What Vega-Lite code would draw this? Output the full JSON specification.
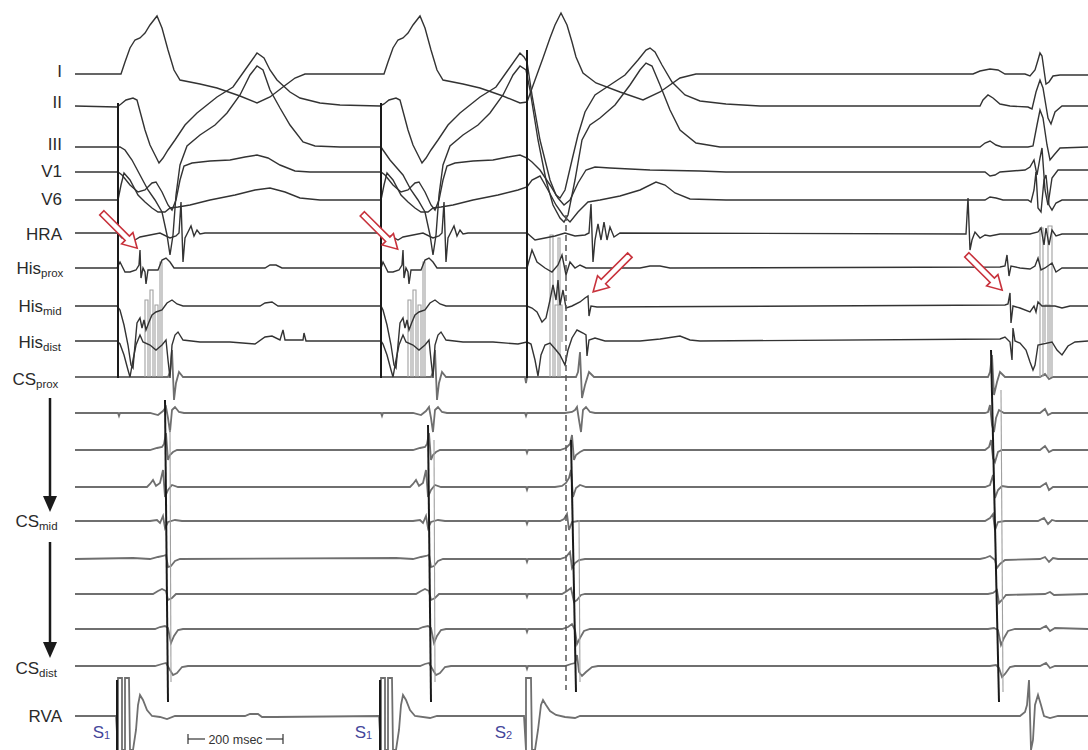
{
  "$schema": "https://vega.github.io/schema/vega-lite/v6.json",
  "width": 1088,
  "height": 750,
  "padding": 0,
  "autosize": {"type": "fit", "contains": "padding"},
  "background": "white",
  "config": {"view": {"stroke": null}},
  "datasets": {
    "traces": [
      {"c":"I","t":75,"v":74},{"c":"I","t":121,"v":74},{"c":"I","t":125,"v":62},{"c":"I","t":130,"v":48},{"c":"I","t":135,"v":40},{"c":"I","t":140,"v":38},{"c":"I","t":145,"v":33},{"c":"I","t":150,"v":25},{"c":"I","t":157,"v":16},{"c":"I","t":162,"v":28},{"c":"I","t":168,"v":50},{"c":"I","t":174,"v":70},{"c":"I","t":180,"v":80},{"c":"I","t":200,"v":84},{"c":"I","t":217,"v":88},{"c":"I","t":240,"v":96},{"c":"I","t":257,"v":103},{"c":"I","t":270,"v":97},{"c":"I","t":283,"v":87},{"c":"I","t":295,"v":78},{"c":"I","t":305,"v":74},{"c":"I","t":384,"v":74},{"c":"I","t":388,"v":62},{"c":"I","t":393,"v":48},{"c":"I","t":398,"v":40},{"c":"I","t":403,"v":38},{"c":"I","t":408,"v":33},{"c":"I","t":413,"v":25},{"c":"I","t":420,"v":16},{"c":"I","t":425,"v":28},{"c":"I","t":431,"v":50},{"c":"I","t":437,"v":70},{"c":"I","t":443,"v":80},{"c":"I","t":463,"v":84},{"c":"I","t":480,"v":88},{"c":"I","t":503,"v":96},{"c":"I","t":520,"v":103},{"c":"I","t":527,"v":102},{"c":"I","t":535,"v":80},{"c":"I","t":543,"v":58},{"c":"I","t":550,"v":38},{"c":"I","t":555,"v":25},{"c":"I","t":561,"v":13},{"c":"I","t":567,"v":25},{"c":"I","t":572,"v":42},{"c":"I","t":576,"v":57},{"c":"I","t":583,"v":73},{"c":"I","t":596,"v":83},{"c":"I","t":620,"v":92},{"c":"I","t":643,"v":100},{"c":"I","t":660,"v":92},{"c":"I","t":680,"v":78},{"c":"I","t":696,"v":74},{"c":"I","t":973,"v":74},{"c":"I","t":980,"v":71},{"c":"I","t":990,"v":69},{"c":"I","t":998,"v":70},{"c":"I","t":1005,"v":74},{"c":"I","t":1025,"v":74},{"c":"I","t":1030,"v":76},{"c":"I","t":1035,"v":70},{"c":"I","t":1038,"v":60},{"c":"I","t":1040,"v":53},{"c":"I","t":1042,"v":56},{"c":"I","t":1044,"v":70},{"c":"I","t":1046,"v":84},{"c":"I","t":1049,"v":82},{"c":"I","t":1053,"v":76},{"c":"I","t":1060,"v":75},{"c":"I","t":1088,"v":75},

      {"c":"II","t":75,"v":106},{"c":"II","t":117,"v":107},{"c":"II","t":121,"v":104},{"c":"II","t":126,"v":100},{"c":"II","t":133,"v":98},{"c":"II","t":137,"v":100},{"c":"II","t":141,"v":115},{"c":"II","t":145,"v":130},{"c":"II","t":150,"v":145},{"c":"II","t":155,"v":155},{"c":"II","t":159,"v":163},{"c":"II","t":163,"v":158},{"c":"II","t":168,"v":150},{"c":"II","t":175,"v":140},{"c":"II","t":185,"v":125},{"c":"II","t":197,"v":113},{"c":"II","t":217,"v":97},{"c":"II","t":233,"v":87},{"c":"II","t":245,"v":70},{"c":"II","t":257,"v":53},{"c":"II","t":264,"v":58},{"c":"II","t":270,"v":70},{"c":"II","t":277,"v":80},{"c":"II","t":290,"v":92},{"c":"II","t":300,"v":98},{"c":"II","t":320,"v":103},{"c":"II","t":340,"v":105},{"c":"II","t":380,"v":106},{"c":"II","t":384,"v":104},{"c":"II","t":389,"v":100},{"c":"II","t":396,"v":98},{"c":"II","t":400,"v":100},{"c":"II","t":404,"v":115},{"c":"II","t":408,"v":130},{"c":"II","t":413,"v":145},{"c":"II","t":418,"v":155},{"c":"II","t":422,"v":163},{"c":"II","t":426,"v":158},{"c":"II","t":431,"v":150},{"c":"II","t":438,"v":140},{"c":"II","t":448,"v":125},{"c":"II","t":460,"v":113},{"c":"II","t":480,"v":97},{"c":"II","t":496,"v":87},{"c":"II","t":508,"v":70},{"c":"II","t":520,"v":53},{"c":"II","t":524,"v":57},{"c":"II","t":527,"v":62},{"c":"II","t":532,"v":95},{"c":"II","t":540,"v":140},{"c":"II","t":550,"v":180},{"c":"II","t":556,"v":195},{"c":"II","t":560,"v":198},{"c":"II","t":565,"v":190},{"c":"II","t":572,"v":160},{"c":"II","t":578,"v":135},{"c":"II","t":585,"v":112},{"c":"II","t":595,"v":95},{"c":"II","t":610,"v":85},{"c":"II","t":625,"v":75},{"c":"II","t":638,"v":60},{"c":"II","t":646,"v":50},{"c":"II","t":650,"v":48},{"c":"II","t":655,"v":52},{"c":"II","t":662,"v":65},{"c":"II","t":672,"v":82},{"c":"II","t":685,"v":95},{"c":"II","t":700,"v":101},{"c":"II","t":726,"v":104},{"c":"II","t":760,"v":106},{"c":"II","t":980,"v":106},{"c":"II","t":983,"v":100},{"c":"II","t":988,"v":95},{"c":"II","t":993,"v":98},{"c":"II","t":1000,"v":104},{"c":"II","t":1010,"v":106},{"c":"II","t":1028,"v":107},{"c":"II","t":1032,"v":109},{"c":"II","t":1036,"v":92},{"c":"II","t":1040,"v":80},{"c":"II","t":1043,"v":88},{"c":"II","t":1048,"v":118},{"c":"II","t":1051,"v":124},{"c":"II","t":1055,"v":112},{"c":"II","t":1062,"v":106},{"c":"II","t":1088,"v":106},

      {"c":"III","t":75,"v":147},{"c":"III","t":120,"v":147},{"c":"III","t":125,"v":150},{"c":"III","t":132,"v":160},{"c":"III","t":140,"v":175},{"c":"III","t":148,"v":190},{"c":"III","t":155,"v":200},{"c":"III","t":162,"v":212},{"c":"III","t":167,"v":235},{"c":"III","t":170,"v":255},{"c":"III","t":173,"v":235},{"c":"III","t":176,"v":195},{"c":"III","t":180,"v":165},{"c":"III","t":187,"v":146},{"c":"III","t":200,"v":135},{"c":"III","t":215,"v":125},{"c":"III","t":227,"v":113},{"c":"III","t":240,"v":95},{"c":"III","t":250,"v":75},{"c":"III","t":257,"v":66},{"c":"III","t":263,"v":70},{"c":"III","t":270,"v":90},{"c":"III","t":280,"v":108},{"c":"III","t":290,"v":125},{"c":"III","t":303,"v":142},{"c":"III","t":315,"v":146},{"c":"III","t":340,"v":147},{"c":"III","t":381,"v":147},{"c":"III","t":383,"v":150},{"c":"III","t":390,"v":160},{"c":"III","t":403,"v":175},{"c":"III","t":411,"v":190},{"c":"III","t":418,"v":200},{"c":"III","t":425,"v":212},{"c":"III","t":430,"v":235},{"c":"III","t":433,"v":255},{"c":"III","t":436,"v":235},{"c":"III","t":439,"v":195},{"c":"III","t":443,"v":165},{"c":"III","t":450,"v":146},{"c":"III","t":463,"v":135},{"c":"III","t":478,"v":125},{"c":"III","t":490,"v":113},{"c":"III","t":503,"v":95},{"c":"III","t":513,"v":75},{"c":"III","t":520,"v":66},{"c":"III","t":526,"v":70},{"c":"III","t":530,"v":90},{"c":"III","t":538,"v":140},{"c":"III","t":546,"v":180},{"c":"III","t":553,"v":205},{"c":"III","t":560,"v":218},{"c":"III","t":564,"v":222},{"c":"III","t":568,"v":215},{"c":"III","t":575,"v":180},{"c":"III","t":582,"v":140},{"c":"III","t":590,"v":125},{"c":"III","t":600,"v":118},{"c":"III","t":615,"v":105},{"c":"III","t":630,"v":85},{"c":"III","t":640,"v":70},{"c":"III","t":646,"v":63},{"c":"III","t":652,"v":66},{"c":"III","t":660,"v":85},{"c":"III","t":670,"v":110},{"c":"III","t":680,"v":130},{"c":"III","t":696,"v":143},{"c":"III","t":720,"v":147},{"c":"III","t":980,"v":147},{"c":"III","t":985,"v":143},{"c":"III","t":990,"v":141},{"c":"III","t":996,"v":145},{"c":"III","t":1002,"v":147},{"c":"III","t":1028,"v":147},{"c":"III","t":1033,"v":146},{"c":"III","t":1037,"v":125},{"c":"III","t":1040,"v":110},{"c":"III","t":1043,"v":118},{"c":"III","t":1047,"v":145},{"c":"III","t":1050,"v":160},{"c":"III","t":1054,"v":155},{"c":"III","t":1060,"v":148},{"c":"III","t":1088,"v":147},

      {"c":"V1","t":75,"v":172},{"c":"V1","t":118,"v":172},{"c":"V1","t":122,"v":175},{"c":"V1","t":130,"v":185},{"c":"V1","t":138,"v":192},{"c":"V1","t":145,"v":190},{"c":"V1","t":152,"v":183},{"c":"V1","t":156,"v":182},{"c":"V1","t":162,"v":192},{"c":"V1","t":168,"v":205},{"c":"V1","t":172,"v":210},{"c":"V1","t":176,"v":200},{"c":"V1","t":180,"v":180},{"c":"V1","t":184,"v":166},{"c":"V1","t":192,"v":163},{"c":"V1","t":210,"v":161},{"c":"V1","t":230,"v":160},{"c":"V1","t":245,"v":157},{"c":"V1","t":257,"v":155},{"c":"V1","t":268,"v":158},{"c":"V1","t":280,"v":165},{"c":"V1","t":295,"v":171},{"c":"V1","t":310,"v":172},{"c":"V1","t":381,"v":172},{"c":"V1","t":385,"v":175},{"c":"V1","t":393,"v":185},{"c":"V1","t":401,"v":192},{"c":"V1","t":408,"v":190},{"c":"V1","t":415,"v":183},{"c":"V1","t":419,"v":182},{"c":"V1","t":425,"v":192},{"c":"V1","t":431,"v":205},{"c":"V1","t":435,"v":210},{"c":"V1","t":439,"v":200},{"c":"V1","t":443,"v":180},{"c":"V1","t":447,"v":166},{"c":"V1","t":455,"v":163},{"c":"V1","t":473,"v":161},{"c":"V1","t":493,"v":160},{"c":"V1","t":508,"v":157},{"c":"V1","t":520,"v":155},{"c":"V1","t":527,"v":158},{"c":"V1","t":532,"v":162},{"c":"V1","t":540,"v":170},{"c":"V1","t":550,"v":185},{"c":"V1","t":558,"v":198},{"c":"V1","t":564,"v":205},{"c":"V1","t":570,"v":200},{"c":"V1","t":578,"v":183},{"c":"V1","t":586,"v":170},{"c":"V1","t":595,"v":167},{"c":"V1","t":610,"v":168},{"c":"V1","t":650,"v":170},{"c":"V1","t":700,"v":171},{"c":"V1","t":726,"v":172},{"c":"V1","t":985,"v":172},{"c":"V1","t":990,"v":176},{"c":"V1","t":995,"v":175},{"c":"V1","t":1000,"v":172},{"c":"V1","t":1025,"v":170},{"c":"V1","t":1030,"v":167},{"c":"V1","t":1034,"v":160},{"c":"V1","t":1037,"v":175},{"c":"V1","t":1040,"v":158},{"c":"V1","t":1042,"v":148},{"c":"V1","t":1045,"v":190},{"c":"V1","t":1048,"v":205},{"c":"V1","t":1052,"v":178},{"c":"V1","t":1058,"v":170},{"c":"V1","t":1088,"v":170},

      {"c":"V6","t":75,"v":200},{"c":"V6","t":118,"v":200},{"c":"V6","t":121,"v":185},{"c":"V6","t":124,"v":173},{"c":"V6","t":130,"v":180},{"c":"V6","t":138,"v":195},{"c":"V6","t":145,"v":202},{"c":"V6","t":152,"v":208},{"c":"V6","t":158,"v":212},{"c":"V6","t":165,"v":212},{"c":"V6","t":170,"v":208},{"c":"V6","t":178,"v":207},{"c":"V6","t":190,"v":205},{"c":"V6","t":210,"v":200},{"c":"V6","t":235,"v":195},{"c":"V6","t":255,"v":190},{"c":"V6","t":270,"v":188},{"c":"V6","t":285,"v":192},{"c":"V6","t":300,"v":198},{"c":"V6","t":320,"v":200},{"c":"V6","t":381,"v":200},{"c":"V6","t":384,"v":185},{"c":"V6","t":387,"v":173},{"c":"V6","t":393,"v":180},{"c":"V6","t":401,"v":195},{"c":"V6","t":408,"v":202},{"c":"V6","t":415,"v":208},{"c":"V6","t":421,"v":212},{"c":"V6","t":428,"v":212},{"c":"V6","t":433,"v":208},{"c":"V6","t":441,"v":207},{"c":"V6","t":453,"v":205},{"c":"V6","t":473,"v":200},{"c":"V6","t":498,"v":195},{"c":"V6","t":518,"v":190},{"c":"V6","t":527,"v":187},{"c":"V6","t":532,"v":180},{"c":"V6","t":540,"v":176},{"c":"V6","t":548,"v":190},{"c":"V6","t":556,"v":205},{"c":"V6","t":563,"v":215},{"c":"V6","t":570,"v":222},{"c":"V6","t":578,"v":212},{"c":"V6","t":588,"v":202},{"c":"V6","t":600,"v":200},{"c":"V6","t":620,"v":196},{"c":"V6","t":640,"v":190},{"c":"V6","t":656,"v":182},{"c":"V6","t":665,"v":185},{"c":"V6","t":675,"v":193},{"c":"V6","t":690,"v":199},{"c":"V6","t":726,"v":200},{"c":"V6","t":985,"v":200},{"c":"V6","t":990,"v":197},{"c":"V6","t":996,"v":198},{"c":"V6","t":1003,"v":200},{"c":"V6","t":1028,"v":200},{"c":"V6","t":1031,"v":202},{"c":"V6","t":1034,"v":190},{"c":"V6","t":1036,"v":172},{"c":"V6","t":1038,"v":208},{"c":"V6","t":1041,"v":212},{"c":"V6","t":1044,"v":180},{"c":"V6","t":1046,"v":175},{"c":"V6","t":1049,"v":205},{"c":"V6","t":1052,"v":210},{"c":"V6","t":1056,"v":203},{"c":"V6","t":1062,"v":200},{"c":"V6","t":1088,"v":200},

      {"c":"HRA","t":75,"v":233},{"c":"HRA","t":117,"v":233},{"c":"HRA","t":122,"v":238},{"c":"HRA","t":128,"v":236},{"c":"HRA","t":135,"v":240},{"c":"HRA","t":140,"v":237},{"c":"HRA","t":150,"v":235},{"c":"HRA","t":160,"v":233},{"c":"HRA","t":170,"v":238},{"c":"HRA","t":176,"v":236},{"c":"HRA","t":179,"v":233},{"c":"HRA","t":181,"v":202},{"c":"HRA","t":183,"v":262},{"c":"HRA","t":185,"v":238},{"c":"HRA","t":188,"v":232},{"c":"HRA","t":191,"v":226},{"c":"HRA","t":194,"v":236},{"c":"HRA","t":197,"v":230},{"c":"HRA","t":200,"v":234},{"c":"HRA","t":205,"v":233},{"c":"HRA","t":381,"v":233},{"c":"HRA","t":385,"v":238},{"c":"HRA","t":391,"v":236},{"c":"HRA","t":398,"v":240},{"c":"HRA","t":403,"v":237},{"c":"HRA","t":413,"v":235},{"c":"HRA","t":423,"v":233},{"c":"HRA","t":433,"v":238},{"c":"HRA","t":439,"v":236},{"c":"HRA","t":442,"v":233},{"c":"HRA","t":444,"v":202},{"c":"HRA","t":446,"v":262},{"c":"HRA","t":448,"v":238},{"c":"HRA","t":451,"v":232},{"c":"HRA","t":454,"v":226},{"c":"HRA","t":457,"v":236},{"c":"HRA","t":460,"v":230},{"c":"HRA","t":463,"v":234},{"c":"HRA","t":468,"v":233},{"c":"HRA","t":527,"v":233},{"c":"HRA","t":535,"v":240},{"c":"HRA","t":545,"v":238},{"c":"HRA","t":555,"v":236},{"c":"HRA","t":565,"v":233},{"c":"HRA","t":575,"v":236},{"c":"HRA","t":585,"v":235},{"c":"HRA","t":589,"v":233},{"c":"HRA","t":591,"v":204},{"c":"HRA","t":593,"v":262},{"c":"HRA","t":595,"v":240},{"c":"HRA","t":598,"v":224},{"c":"HRA","t":601,"v":240},{"c":"HRA","t":604,"v":222},{"c":"HRA","t":607,"v":240},{"c":"HRA","t":610,"v":227},{"c":"HRA","t":614,"v":237},{"c":"HRA","t":620,"v":233},{"c":"HRA","t":966,"v":234},{"c":"HRA","t":968,"v":198},{"c":"HRA","t":970,"v":250},{"c":"HRA","t":972,"v":240},{"c":"HRA","t":975,"v":232},{"c":"HRA","t":980,"v":238},{"c":"HRA","t":985,"v":235},{"c":"HRA","t":990,"v":236},{"c":"HRA","t":1000,"v":234},{"c":"HRA","t":1030,"v":234},{"c":"HRA","t":1038,"v":232},{"c":"HRA","t":1041,"v":228},{"c":"HRA","t":1044,"v":245},{"c":"HRA","t":1046,"v":228},{"c":"HRA","t":1049,"v":245},{"c":"HRA","t":1052,"v":230},{"c":"HRA","t":1056,"v":236},{"c":"HRA","t":1062,"v":234},{"c":"HRA","t":1088,"v":234},

      {"c":"Hp","t":75,"v":268},{"c":"Hp","t":117,"v":268},{"c":"Hp","t":120,"v":262},{"c":"Hp","t":125,"v":272},{"c":"Hp","t":130,"v":272},{"c":"Hp","t":136,"v":270},{"c":"Hp","t":139,"v":265},{"c":"Hp","t":140,"v":250},{"c":"Hp","t":141,"v":278},{"c":"Hp","t":143,"v":268},{"c":"Hp","t":145,"v":272},{"c":"Hp","t":146,"v":284},{"c":"Hp","t":148,"v":270},{"c":"Hp","t":152,"v":270},{"c":"Hp","t":158,"v":270},{"c":"Hp","t":162,"v":260},{"c":"Hp","t":166,"v":258},{"c":"Hp","t":170,"v":262},{"c":"Hp","t":174,"v":268},{"c":"Hp","t":190,"v":268},{"c":"Hp","t":265,"v":268},{"c":"Hp","t":270,"v":265},{"c":"Hp","t":276,"v":265},{"c":"Hp","t":282,"v":268},{"c":"Hp","t":381,"v":268},{"c":"Hp","t":383,"v":262},{"c":"Hp","t":388,"v":272},{"c":"Hp","t":393,"v":272},{"c":"Hp","t":399,"v":270},{"c":"Hp","t":402,"v":265},{"c":"Hp","t":403,"v":250},{"c":"Hp","t":404,"v":278},{"c":"Hp","t":406,"v":268},{"c":"Hp","t":408,"v":272},{"c":"Hp","t":409,"v":284},{"c":"Hp","t":411,"v":270},{"c":"Hp","t":415,"v":270},{"c":"Hp","t":421,"v":270},{"c":"Hp","t":425,"v":260},{"c":"Hp","t":429,"v":258},{"c":"Hp","t":433,"v":262},{"c":"Hp","t":437,"v":268},{"c":"Hp","t":527,"v":268},{"c":"Hp","t":532,"v":250},{"c":"Hp","t":537,"v":262},{"c":"Hp","t":545,"v":268},{"c":"Hp","t":552,"v":272},{"c":"Hp","t":558,"v":265},{"c":"Hp","t":562,"v":255},{"c":"Hp","t":566,"v":275},{"c":"Hp","t":570,"v":262},{"c":"Hp","t":575,"v":268},{"c":"Hp","t":580,"v":265},{"c":"Hp","t":586,"v":268},{"c":"Hp","t":640,"v":268},{"c":"Hp","t":650,"v":266},{"c":"Hp","t":660,"v":266},{"c":"Hp","t":670,"v":268},{"c":"Hp","t":1000,"v":267},{"c":"Hp","t":1005,"v":266},{"c":"Hp","t":1007,"v":255},{"c":"Hp","t":1009,"v":276},{"c":"Hp","t":1011,"v":266},{"c":"Hp","t":1020,"v":268},{"c":"Hp","t":1030,"v":269},{"c":"Hp","t":1035,"v":266},{"c":"Hp","t":1038,"v":258},{"c":"Hp","t":1041,"v":270},{"c":"Hp","t":1045,"v":268},{"c":"Hp","t":1052,"v":263},{"c":"Hp","t":1056,"v":272},{"c":"Hp","t":1062,"v":268},{"c":"Hp","t":1088,"v":268},

      {"c":"Hm","t":75,"v":306},{"c":"Hm","t":117,"v":306},{"c":"Hm","t":120,"v":310},{"c":"Hm","t":124,"v":325},{"c":"Hm","t":128,"v":345},{"c":"Hm","t":131,"v":365},{"c":"Hm","t":133,"v":368},{"c":"Hm","t":135,"v":345},{"c":"Hm","t":137,"v":323},{"c":"Hm","t":140,"v":318},{"c":"Hm","t":142,"v":328},{"c":"Hm","t":144,"v":320},{"c":"Hm","t":146,"v":330},{"c":"Hm","t":149,"v":322},{"c":"Hm","t":152,"v":315},{"c":"Hm","t":156,"v":312},{"c":"Hm","t":162,"v":310},{"c":"Hm","t":167,"v":303},{"c":"Hm","t":172,"v":300},{"c":"Hm","t":177,"v":304},{"c":"Hm","t":183,"v":306},{"c":"Hm","t":260,"v":306},{"c":"Hm","t":265,"v":303},{"c":"Hm","t":272,"v":302},{"c":"Hm","t":278,"v":306},{"c":"Hm","t":381,"v":306},{"c":"Hm","t":383,"v":310},{"c":"Hm","t":387,"v":325},{"c":"Hm","t":391,"v":345},{"c":"Hm","t":394,"v":365},{"c":"Hm","t":396,"v":368},{"c":"Hm","t":398,"v":345},{"c":"Hm","t":400,"v":323},{"c":"Hm","t":403,"v":318},{"c":"Hm","t":405,"v":328},{"c":"Hm","t":407,"v":320},{"c":"Hm","t":409,"v":330},{"c":"Hm","t":412,"v":322},{"c":"Hm","t":415,"v":315},{"c":"Hm","t":419,"v":312},{"c":"Hm","t":425,"v":310},{"c":"Hm","t":430,"v":303},{"c":"Hm","t":435,"v":300},{"c":"Hm","t":440,"v":304},{"c":"Hm","t":446,"v":306},{"c":"Hm","t":527,"v":306},{"c":"Hm","t":532,"v":308},{"c":"Hm","t":537,"v":312},{"c":"Hm","t":542,"v":322},{"c":"Hm","t":546,"v":318},{"c":"Hm","t":550,"v":300},{"c":"Hm","t":553,"v":285},{"c":"Hm","t":556,"v":300},{"c":"Hm","t":558,"v":280},{"c":"Hm","t":560,"v":305},{"c":"Hm","t":563,"v":290},{"c":"Hm","t":566,"v":308},{"c":"Hm","t":572,"v":306},{"c":"Hm","t":580,"v":302},{"c":"Hm","t":585,"v":298},{"c":"Hm","t":588,"v":296},{"c":"Hm","t":589,"v":316},{"c":"Hm","t":591,"v":306},{"c":"Hm","t":597,"v":307},{"c":"Hm","t":1005,"v":305},{"c":"Hm","t":1008,"v":304},{"c":"Hm","t":1010,"v":293},{"c":"Hm","t":1011,"v":323},{"c":"Hm","t":1013,"v":306},{"c":"Hm","t":1020,"v":308},{"c":"Hm","t":1030,"v":312},{"c":"Hm","t":1034,"v":306},{"c":"Hm","t":1036,"v":312},{"c":"Hm","t":1038,"v":302},{"c":"Hm","t":1042,"v":306},{"c":"Hm","t":1055,"v":306},{"c":"Hm","t":1062,"v":308},{"c":"Hm","t":1070,"v":306},{"c":"Hm","t":1088,"v":306},

      {"c":"Hd","t":75,"v":341},{"c":"Hd","t":117,"v":341},{"c":"Hd","t":120,"v":344},{"c":"Hd","t":124,"v":355},{"c":"Hd","t":128,"v":370},{"c":"Hd","t":130,"v":377},{"c":"Hd","t":133,"v":360},{"c":"Hd","t":136,"v":345},{"c":"Hd","t":140,"v":335},{"c":"Hd","t":143,"v":342},{"c":"Hd","t":150,"v":345},{"c":"Hd","t":156,"v":350},{"c":"Hd","t":162,"v":345},{"c":"Hd","t":166,"v":340},{"c":"Hd","t":168,"v":360},{"c":"Hd","t":170,"v":378},{"c":"Hd","t":172,"v":345},{"c":"Hd","t":175,"v":335},{"c":"Hd","t":178,"v":332},{"c":"Hd","t":183,"v":340},{"c":"Hd","t":200,"v":342},{"c":"Hd","t":230,"v":342},{"c":"Hd","t":255,"v":344},{"c":"Hd","t":265,"v":337},{"c":"Hd","t":272,"v":336},{"c":"Hd","t":280,"v":340},{"c":"Hd","t":283,"v":330},{"c":"Hd","t":285,"v":340},{"c":"Hd","t":303,"v":340},{"c":"Hd","t":304,"v":333},{"c":"Hd","t":306,"v":341},{"c":"Hd","t":381,"v":341},{"c":"Hd","t":383,"v":344},{"c":"Hd","t":387,"v":355},{"c":"Hd","t":391,"v":370},{"c":"Hd","t":393,"v":377},{"c":"Hd","t":396,"v":360},{"c":"Hd","t":399,"v":345},{"c":"Hd","t":403,"v":335},{"c":"Hd","t":406,"v":342},{"c":"Hd","t":413,"v":345},{"c":"Hd","t":419,"v":350},{"c":"Hd","t":425,"v":345},{"c":"Hd","t":429,"v":340},{"c":"Hd","t":431,"v":360},{"c":"Hd","t":433,"v":378},{"c":"Hd","t":435,"v":345},{"c":"Hd","t":438,"v":335},{"c":"Hd","t":441,"v":332},{"c":"Hd","t":446,"v":340},{"c":"Hd","t":463,"v":342},{"c":"Hd","t":493,"v":342},{"c":"Hd","t":518,"v":344},{"c":"Hd","t":527,"v":342},{"c":"Hd","t":531,"v":344},{"c":"Hd","t":535,"v":360},{"c":"Hd","t":538,"v":376},{"c":"Hd","t":541,"v":355},{"c":"Hd","t":545,"v":345},{"c":"Hd","t":550,"v":343},{"c":"Hd","t":556,"v":350},{"c":"Hd","t":560,"v":355},{"c":"Hd","t":565,"v":365},{"c":"Hd","t":568,"v":350},{"c":"Hd","t":572,"v":338},{"c":"Hd","t":577,"v":330},{"c":"Hd","t":583,"v":333},{"c":"Hd","t":586,"v":335},{"c":"Hd","t":587,"v":356},{"c":"Hd","t":589,"v":340},{"c":"Hd","t":595,"v":338},{"c":"Hd","t":605,"v":341},{"c":"Hd","t":640,"v":341},{"c":"Hd","t":660,"v":339},{"c":"Hd","t":680,"v":336},{"c":"Hd","t":690,"v":340},{"c":"Hd","t":700,"v":341},{"c":"Hd","t":1000,"v":339},{"c":"Hd","t":1005,"v":337},{"c":"Hd","t":1010,"v":342},{"c":"Hd","t":1012,"v":360},{"c":"Hd","t":1013,"v":328},{"c":"Hd","t":1015,"v":341},{"c":"Hd","t":1020,"v":343},{"c":"Hd","t":1026,"v":350},{"c":"Hd","t":1030,"v":362},{"c":"Hd","t":1033,"v":370},{"c":"Hd","t":1035,"v":365},{"c":"Hd","t":1038,"v":345},{"c":"Hd","t":1052,"v":342},{"c":"Hd","t":1057,"v":350},{"c":"Hd","t":1062,"v":355},{"c":"Hd","t":1068,"v":346},{"c":"Hd","t":1075,"v":342},{"c":"Hd","t":1088,"v":341},

      {"c":"CS1","t":75,"v":377},{"c":"CS1","t":168,"v":377},{"c":"CS1","t":170,"v":372},{"c":"CS1","t":172,"v":350},{"c":"CS1","t":174,"v":400},{"c":"CS1","t":176,"v":383},{"c":"CS1","t":179,"v":372},{"c":"CS1","t":183,"v":377},{"c":"CS1","t":431,"v":377},{"c":"CS1","t":433,"v":372},{"c":"CS1","t":435,"v":350},{"c":"CS1","t":437,"v":400},{"c":"CS1","t":439,"v":383},{"c":"CS1","t":442,"v":372},{"c":"CS1","t":446,"v":377},{"c":"CS1","t":525,"v":377},{"c":"CS1","t":526,"v":383},{"c":"CS1","t":527,"v":377},{"c":"CS1","t":576,"v":377},{"c":"CS1","t":578,"v":372},{"c":"CS1","t":580,"v":352},{"c":"CS1","t":582,"v":398},{"c":"CS1","t":585,"v":385},{"c":"CS1","t":589,"v":372},{"c":"CS1","t":594,"v":377},{"c":"CS1","t":988,"v":377},{"c":"CS1","t":990,"v":372},{"c":"CS1","t":992,"v":355},{"c":"CS1","t":994,"v":395},{"c":"CS1","t":997,"v":382},{"c":"CS1","t":1000,"v":372},{"c":"CS1","t":1005,"v":377},{"c":"CS1","t":1040,"v":377},{"c":"CS1","t":1045,"v":374},{"c":"CS1","t":1049,"v":379},{"c":"CS1","t":1053,"v":377},{"c":"CS1","t":1088,"v":377},

      {"c":"CS2","t":75,"v":413},{"c":"CS2","t":118,"v":413},{"c":"CS2","t":119,"v":416},{"c":"CS2","t":120,"v":413},{"c":"CS2","t":150,"v":413},{"c":"CS2","t":158,"v":415},{"c":"CS2","t":163,"v":411},{"c":"CS2","t":166,"v":407},{"c":"CS2","t":168,"v":418},{"c":"CS2","t":170,"v":432},{"c":"CS2","t":172,"v":410},{"c":"CS2","t":175,"v":407},{"c":"CS2","t":179,"v":412},{"c":"CS2","t":184,"v":413},{"c":"CS2","t":381,"v":413},{"c":"CS2","t":382,"v":416},{"c":"CS2","t":383,"v":413},{"c":"CS2","t":413,"v":413},{"c":"CS2","t":421,"v":415},{"c":"CS2","t":426,"v":411},{"c":"CS2","t":429,"v":407},{"c":"CS2","t":431,"v":418},{"c":"CS2","t":433,"v":432},{"c":"CS2","t":435,"v":410},{"c":"CS2","t":438,"v":407},{"c":"CS2","t":442,"v":412},{"c":"CS2","t":447,"v":413},{"c":"CS2","t":525,"v":413},{"c":"CS2","t":526,"v":416},{"c":"CS2","t":527,"v":413},{"c":"CS2","t":565,"v":413},{"c":"CS2","t":572,"v":412},{"c":"CS2","t":575,"v":410},{"c":"CS2","t":577,"v":407},{"c":"CS2","t":579,"v":420},{"c":"CS2","t":581,"v":432},{"c":"CS2","t":583,"v":410},{"c":"CS2","t":586,"v":407},{"c":"CS2","t":590,"v":412},{"c":"CS2","t":595,"v":413},{"c":"CS2","t":985,"v":413},{"c":"CS2","t":988,"v":412},{"c":"CS2","t":990,"v":405},{"c":"CS2","t":992,"v":425},{"c":"CS2","t":994,"v":432},{"c":"CS2","t":996,"v":418},{"c":"CS2","t":999,"v":410},{"c":"CS2","t":1004,"v":413},{"c":"CS2","t":1040,"v":413},{"c":"CS2","t":1045,"v":409},{"c":"CS2","t":1048,"v":415},{"c":"CS2","t":1052,"v":413},{"c":"CS2","t":1088,"v":413},

      {"c":"CS3","t":75,"v":450},{"c":"CS3","t":150,"v":450},{"c":"CS3","t":157,"v":448},{"c":"CS3","t":162,"v":447},{"c":"CS3","t":164,"v":444},{"c":"CS3","t":166,"v":433},{"c":"CS3","t":168,"v":460},{"c":"CS3","t":170,"v":455},{"c":"CS3","t":173,"v":452},{"c":"CS3","t":177,"v":450},{"c":"CS3","t":413,"v":450},{"c":"CS3","t":420,"v":448},{"c":"CS3","t":425,"v":447},{"c":"CS3","t":427,"v":444},{"c":"CS3","t":429,"v":433},{"c":"CS3","t":431,"v":460},{"c":"CS3","t":433,"v":455},{"c":"CS3","t":436,"v":452},{"c":"CS3","t":440,"v":450},{"c":"CS3","t":526,"v":450},{"c":"CS3","t":527,"v":453},{"c":"CS3","t":528,"v":450},{"c":"CS3","t":560,"v":450},{"c":"CS3","t":566,"v":448},{"c":"CS3","t":570,"v":444},{"c":"CS3","t":572,"v":435},{"c":"CS3","t":574,"v":460},{"c":"CS3","t":576,"v":455},{"c":"CS3","t":580,"v":452},{"c":"CS3","t":584,"v":450},{"c":"CS3","t":985,"v":450},{"c":"CS3","t":989,"v":447},{"c":"CS3","t":991,"v":440},{"c":"CS3","t":993,"v":458},{"c":"CS3","t":995,"v":462},{"c":"CS3","t":998,"v":452},{"c":"CS3","t":1002,"v":450},{"c":"CS3","t":1040,"v":450},{"c":"CS3","t":1045,"v":446},{"c":"CS3","t":1049,"v":452},{"c":"CS3","t":1053,"v":450},{"c":"CS3","t":1088,"v":450},

      {"c":"CS4","t":75,"v":487},{"c":"CS4","t":140,"v":487},{"c":"CS4","t":147,"v":487},{"c":"CS4","t":150,"v":484},{"c":"CS4","t":153,"v":480},{"c":"CS4","t":156,"v":486},{"c":"CS4","t":160,"v":483},{"c":"CS4","t":163,"v":470},{"c":"CS4","t":165,"v":497},{"c":"CS4","t":168,"v":490},{"c":"CS4","t":172,"v":485},{"c":"CS4","t":178,"v":487},{"c":"CS4","t":403,"v":487},{"c":"CS4","t":410,"v":487},{"c":"CS4","t":413,"v":484},{"c":"CS4","t":416,"v":480},{"c":"CS4","t":419,"v":486},{"c":"CS4","t":423,"v":483},{"c":"CS4","t":426,"v":470},{"c":"CS4","t":428,"v":497},{"c":"CS4","t":431,"v":490},{"c":"CS4","t":435,"v":485},{"c":"CS4","t":441,"v":487},{"c":"CS4","t":526,"v":487},{"c":"CS4","t":527,"v":490},{"c":"CS4","t":528,"v":487},{"c":"CS4","t":555,"v":487},{"c":"CS4","t":562,"v":486},{"c":"CS4","t":566,"v":483},{"c":"CS4","t":569,"v":478},{"c":"CS4","t":571,"v":470},{"c":"CS4","t":573,"v":497},{"c":"CS4","t":576,"v":488},{"c":"CS4","t":580,"v":485},{"c":"CS4","t":586,"v":487},{"c":"CS4","t":985,"v":487},{"c":"CS4","t":990,"v":485},{"c":"CS4","t":993,"v":475},{"c":"CS4","t":995,"v":498},{"c":"CS4","t":998,"v":490},{"c":"CS4","t":1002,"v":486},{"c":"CS4","t":1008,"v":487},{"c":"CS4","t":1040,"v":487},{"c":"CS4","t":1046,"v":483},{"c":"CS4","t":1049,"v":490},{"c":"CS4","t":1053,"v":487},{"c":"CS4","t":1088,"v":487},

      {"c":"CS5","t":75,"v":521},{"c":"CS5","t":150,"v":521},{"c":"CS5","t":157,"v":520},{"c":"CS5","t":160,"v":523},{"c":"CS5","t":163,"v":516},{"c":"CS5","t":165,"v":528},{"c":"CS5","t":168,"v":522},{"c":"CS5","t":175,"v":520},{"c":"CS5","t":182,"v":521},{"c":"CS5","t":413,"v":521},{"c":"CS5","t":420,"v":520},{"c":"CS5","t":423,"v":523},{"c":"CS5","t":426,"v":516},{"c":"CS5","t":428,"v":528},{"c":"CS5","t":431,"v":522},{"c":"CS5","t":438,"v":520},{"c":"CS5","t":445,"v":521},{"c":"CS5","t":526,"v":521},{"c":"CS5","t":527,"v":524},{"c":"CS5","t":528,"v":521},{"c":"CS5","t":560,"v":521},{"c":"CS5","t":564,"v":519},{"c":"CS5","t":567,"v":514},{"c":"CS5","t":569,"v":530},{"c":"CS5","t":572,"v":522},{"c":"CS5","t":578,"v":521},{"c":"CS5","t":985,"v":521},{"c":"CS5","t":990,"v":518},{"c":"CS5","t":993,"v":514},{"c":"CS5","t":995,"v":530},{"c":"CS5","t":998,"v":522},{"c":"CS5","t":1005,"v":521},{"c":"CS5","t":1038,"v":521},{"c":"CS5","t":1044,"v":518},{"c":"CS5","t":1048,"v":524},{"c":"CS5","t":1052,"v":520},{"c":"CS5","t":1056,"v":521},{"c":"CS5","t":1088,"v":521},

      {"c":"CS6","t":75,"v":559},{"c":"CS6","t":133,"v":558},{"c":"CS6","t":150,"v":559},{"c":"CS6","t":158,"v":557},{"c":"CS6","t":163,"v":556},{"c":"CS6","t":166,"v":555},{"c":"CS6","t":168,"v":567},{"c":"CS6","t":171,"v":566},{"c":"CS6","t":175,"v":561},{"c":"CS6","t":180,"v":559},{"c":"CS6","t":396,"v":558},{"c":"CS6","t":413,"v":559},{"c":"CS6","t":421,"v":557},{"c":"CS6","t":426,"v":556},{"c":"CS6","t":429,"v":555},{"c":"CS6","t":431,"v":567},{"c":"CS6","t":434,"v":566},{"c":"CS6","t":438,"v":561},{"c":"CS6","t":443,"v":559},{"c":"CS6","t":526,"v":559},{"c":"CS6","t":527,"v":562},{"c":"CS6","t":528,"v":559},{"c":"CS6","t":560,"v":559},{"c":"CS6","t":566,"v":557},{"c":"CS6","t":570,"v":552},{"c":"CS6","t":572,"v":568},{"c":"CS6","t":575,"v":563},{"c":"CS6","t":579,"v":560},{"c":"CS6","t":585,"v":559},{"c":"CS6","t":980,"v":559},{"c":"CS6","t":985,"v":558},{"c":"CS6","t":990,"v":556},{"c":"CS6","t":995,"v":560},{"c":"CS6","t":997,"v":568},{"c":"CS6","t":1000,"v":564},{"c":"CS6","t":1005,"v":560},{"c":"CS6","t":1040,"v":559},{"c":"CS6","t":1045,"v":557},{"c":"CS6","t":1049,"v":562},{"c":"CS6","t":1053,"v":558},{"c":"CS6","t":1058,"v":559},{"c":"CS6","t":1088,"v":559},

      {"c":"CS7","t":75,"v":594},{"c":"CS7","t":153,"v":594},{"c":"CS7","t":158,"v":591},{"c":"CS7","t":162,"v":589},{"c":"CS7","t":166,"v":591},{"c":"CS7","t":168,"v":600},{"c":"CS7","t":172,"v":598},{"c":"CS7","t":176,"v":594},{"c":"CS7","t":416,"v":594},{"c":"CS7","t":421,"v":591},{"c":"CS7","t":425,"v":589},{"c":"CS7","t":429,"v":591},{"c":"CS7","t":431,"v":600},{"c":"CS7","t":435,"v":598},{"c":"CS7","t":439,"v":594},{"c":"CS7","t":526,"v":594},{"c":"CS7","t":527,"v":597},{"c":"CS7","t":528,"v":594},{"c":"CS7","t":562,"v":594},{"c":"CS7","t":567,"v":591},{"c":"CS7","t":571,"v":588},{"c":"CS7","t":574,"v":602},{"c":"CS7","t":577,"v":600},{"c":"CS7","t":581,"v":595},{"c":"CS7","t":585,"v":594},{"c":"CS7","t":988,"v":594},{"c":"CS7","t":993,"v":593},{"c":"CS7","t":997,"v":590},{"c":"CS7","t":999,"v":603},{"c":"CS7","t":1002,"v":600},{"c":"CS7","t":1006,"v":595},{"c":"CS7","t":1045,"v":594},{"c":"CS7","t":1050,"v":592},{"c":"CS7","t":1054,"v":595},{"c":"CS7","t":1088,"v":594},

      {"c":"CS8","t":75,"v":629},{"c":"CS8","t":155,"v":629},{"c":"CS8","t":160,"v":627},{"c":"CS8","t":165,"v":626},{"c":"CS8","t":168,"v":628},{"c":"CS8","t":171,"v":643},{"c":"CS8","t":174,"v":636},{"c":"CS8","t":178,"v":630},{"c":"CS8","t":183,"v":629},{"c":"CS8","t":418,"v":629},{"c":"CS8","t":423,"v":627},{"c":"CS8","t":428,"v":626},{"c":"CS8","t":431,"v":628},{"c":"CS8","t":434,"v":643},{"c":"CS8","t":437,"v":636},{"c":"CS8","t":441,"v":630},{"c":"CS8","t":446,"v":629},{"c":"CS8","t":526,"v":629},{"c":"CS8","t":527,"v":632},{"c":"CS8","t":528,"v":629},{"c":"CS8","t":562,"v":629},{"c":"CS8","t":568,"v":627},{"c":"CS8","t":572,"v":624},{"c":"CS8","t":575,"v":630},{"c":"CS8","t":577,"v":644},{"c":"CS8","t":580,"v":638},{"c":"CS8","t":584,"v":631},{"c":"CS8","t":590,"v":629},{"c":"CS8","t":988,"v":629},{"c":"CS8","t":994,"v":628},{"c":"CS8","t":998,"v":630},{"c":"CS8","t":1001,"v":645},{"c":"CS8","t":1004,"v":638},{"c":"CS8","t":1008,"v":631},{"c":"CS8","t":1015,"v":629},{"c":"CS8","t":1040,"v":629},{"c":"CS8","t":1046,"v":626},{"c":"CS8","t":1050,"v":631},{"c":"CS8","t":1055,"v":628},{"c":"CS8","t":1088,"v":629},

      {"c":"CS9","t":75,"v":666},{"c":"CS9","t":155,"v":666},{"c":"CS9","t":162,"v":664},{"c":"CS9","t":166,"v":663},{"c":"CS9","t":170,"v":670},{"c":"CS9","t":173,"v":675},{"c":"CS9","t":177,"v":673},{"c":"CS9","t":182,"v":667},{"c":"CS9","t":188,"v":666},{"c":"CS9","t":420,"v":666},{"c":"CS9","t":425,"v":664},{"c":"CS9","t":429,"v":663},{"c":"CS9","t":433,"v":670},{"c":"CS9","t":436,"v":675},{"c":"CS9","t":440,"v":673},{"c":"CS9","t":445,"v":667},{"c":"CS9","t":451,"v":666},{"c":"CS9","t":526,"v":666},{"c":"CS9","t":527,"v":669},{"c":"CS9","t":528,"v":666},{"c":"CS9","t":565,"v":666},{"c":"CS9","t":571,"v":664},{"c":"CS9","t":575,"v":663},{"c":"CS9","t":577,"v":655},{"c":"CS9","t":579,"v":672},{"c":"CS9","t":582,"v":676},{"c":"CS9","t":586,"v":672},{"c":"CS9","t":592,"v":667},{"c":"CS9","t":598,"v":666},{"c":"CS9","t":990,"v":666},{"c":"CS9","t":996,"v":665},{"c":"CS9","t":999,"v":668},{"c":"CS9","t":1002,"v":677},{"c":"CS9","t":1005,"v":674},{"c":"CS9","t":1010,"v":667},{"c":"CS9","t":1015,"v":666},{"c":"CS9","t":1040,"v":666},{"c":"CS9","t":1046,"v":663},{"c":"CS9","t":1050,"v":668},{"c":"CS9","t":1055,"v":666},{"c":"CS9","t":1088,"v":666},

      {"c":"RVA","t":75,"v":716},{"c":"RVA","t":116,"v":716},{"c":"RVA","t":118,"v":750},{"c":"RVA","t":118,"v":678},{"c":"RVA","t":122,"v":678},{"c":"RVA","t":122,"v":750},{"c":"RVA","t":125,"v":750},{"c":"RVA","t":125,"v":678},{"c":"RVA","t":129,"v":678},{"c":"RVA","t":130,"v":750},{"c":"RVA","t":133,"v":750},{"c":"RVA","t":136,"v":730},{"c":"RVA","t":138,"v":705},{"c":"RVA","t":140,"v":695},{"c":"RVA","t":143,"v":700},{"c":"RVA","t":147,"v":710},{"c":"RVA","t":152,"v":716},{"c":"RVA","t":160,"v":717},{"c":"RVA","t":167,"v":719},{"c":"RVA","t":175,"v":716},{"c":"RVA","t":245,"v":716},{"c":"RVA","t":250,"v":714},{"c":"RVA","t":258,"v":714},{"c":"RVA","t":262,"v":717},{"c":"RVA","t":275,"v":717},{"c":"RVA","t":379,"v":716},{"c":"RVA","t":381,"v":750},{"c":"RVA","t":381,"v":678},{"c":"RVA","t":385,"v":678},{"c":"RVA","t":385,"v":750},{"c":"RVA","t":388,"v":750},{"c":"RVA","t":388,"v":678},{"c":"RVA","t":392,"v":678},{"c":"RVA","t":393,"v":750},{"c":"RVA","t":396,"v":750},{"c":"RVA","t":399,"v":730},{"c":"RVA","t":401,"v":705},{"c":"RVA","t":403,"v":695},{"c":"RVA","t":406,"v":700},{"c":"RVA","t":410,"v":710},{"c":"RVA","t":415,"v":716},{"c":"RVA","t":430,"v":718},{"c":"RVA","t":437,"v":716},{"c":"RVA","t":524,"v":716},{"c":"RVA","t":526,"v":750},{"c":"RVA","t":526,"v":678},{"c":"RVA","t":531,"v":678},{"c":"RVA","t":532,"v":750},{"c":"RVA","t":535,"v":750},{"c":"RVA","t":538,"v":730},{"c":"RVA","t":541,"v":705},{"c":"RVA","t":543,"v":700},{"c":"RVA","t":546,"v":705},{"c":"RVA","t":550,"v":711},{"c":"RVA","t":556,"v":715},{"c":"RVA","t":565,"v":717},{"c":"RVA","t":575,"v":718},{"c":"RVA","t":580,"v":716},{"c":"RVA","t":1020,"v":716},{"c":"RVA","t":1025,"v":712},{"c":"RVA","t":1027,"v":705},{"c":"RVA","t":1029,"v":680},{"c":"RVA","t":1031,"v":750},{"c":"RVA","t":1033,"v":740},{"c":"RVA","t":1035,"v":705},{"c":"RVA","t":1038,"v":695},{"c":"RVA","t":1041,"v":705},{"c":"RVA","t":1044,"v":716},{"c":"RVA","t":1050,"v":718},{"c":"RVA","t":1058,"v":716},{"c":"RVA","t":1088,"v":716}
    ],
    "clipped": [
      {"id":"b1","t":145,"v":377},{"id":"b1","t":145,"v":300},{"id":"b1","t":148,"v":300},{"id":"b1","t":148,"v":377},
      {"id":"b2","t":150,"v":377},{"id":"b2","t":150,"v":290},{"id":"b2","t":153,"v":290},{"id":"b2","t":153,"v":377},
      {"id":"b3","t":155,"v":377},{"id":"b3","t":155,"v":305},{"id":"b3","t":158,"v":305},{"id":"b3","t":158,"v":377},
      {"id":"b4","t":160,"v":377},{"id":"b4","t":160,"v":262},{"id":"b4","t":162,"v":262},{"id":"b4","t":162,"v":377},
      {"id":"b5","t":408,"v":377},{"id":"b5","t":408,"v":300},{"id":"b5","t":411,"v":300},{"id":"b5","t":411,"v":377},
      {"id":"b6","t":413,"v":377},{"id":"b6","t":413,"v":290},{"id":"b6","t":416,"v":290},{"id":"b6","t":416,"v":377},
      {"id":"b7","t":418,"v":377},{"id":"b7","t":418,"v":305},{"id":"b7","t":421,"v":305},{"id":"b7","t":421,"v":377},
      {"id":"b8","t":423,"v":377},{"id":"b8","t":423,"v":262},{"id":"b8","t":425,"v":262},{"id":"b8","t":425,"v":377},
      {"id":"b9","t":550,"v":377},{"id":"b9","t":550,"v":235},{"id":"b9","t":553,"v":235},{"id":"b9","t":553,"v":377},
      {"id":"b10","t":555,"v":377},{"id":"b10","t":555,"v":305},{"id":"b10","t":562,"v":305},{"id":"b10","t":562,"v":342},
      {"id":"b11","t":558,"v":377},{"id":"b11","t":558,"v":238},{"id":"b11","t":560,"v":238},{"id":"b11","t":560,"v":377},
      {"id":"b12","t":1040,"v":377},{"id":"b12","t":1040,"v":228},{"id":"b12","t":1043,"v":228},{"id":"b12","t":1043,"v":377},
      {"id":"b13","t":1045,"v":342},{"id":"b13","t":1045,"v":305},{"id":"b13","t":1050,"v":305},{"id":"b13","t":1050,"v":377},
      {"id":"b14","t":1048,"v":377},{"id":"b14","t":1048,"v":226},{"id":"b14","t":1052,"v":226},{"id":"b14","t":1052,"v":377},
      {"id":"g1","t":170,"v":430},{"id":"g1","t":171,"v":682},
      {"id":"g2","t":434,"v":440},{"id":"g2","t":435,"v":682},
      {"id":"g3","t":579,"v":520},{"id":"g3","t":580,"v":682},
      {"id":"g4","t":1001,"v":390},{"id":"g4","t":1003,"v":692}
    ],
    "artifacts": [
      {"id":"s1","t":118,"v":103},{"id":"s1","t":118,"v":378},
      {"id":"s2","t":381,"v":103},{"id":"s2","t":381,"v":378},
      {"id":"s3","t":527,"v":50},{"id":"s3","t":527,"v":378},
      {"id":"s4","t":117,"v":680},{"id":"s4","t":117,"v":750},
      {"id":"s5","t":380,"v":680},{"id":"s5","t":380,"v":750},
      {"id":"c1","t":165,"v":400},{"id":"c1","t":168,"v":702},
      {"id":"c2","t":428,"v":425},{"id":"c2","t":431,"v":702},
      {"id":"c3","t":571,"v":440},{"id":"c3","t":576,"v":692},
      {"id":"c4","t":991,"v":350},{"id":"c4","t":999,"v":702}
    ],
    "marker": [
      {"t":566,"v":215},{"t":566,"v":690}
    ],
    "scalebar": [
      {"id":"l","t":188,"v":739},{"id":"l","t":205,"v":739},
      {"id":"r","t":266,"v":739},{"id":"r","t":283,"v":739},
      {"id":"tl","t":188,"v":734},{"id":"tl","t":188,"v":744},
      {"id":"tr","t":283,"v":734},{"id":"tr","t":283,"v":744}
    ],
    "shafts": [
      {"id":"a","t":50,"v":398},{"id":"a","t":50,"v":500},
      {"id":"b","t":50,"v":542},{"id":"b","t":50,"v":646}
    ],
    "heads": [
      {"t":50,"v":504},{"t":50,"v":650}
    ],
    "pointDownRight": [
      {"t":119.5,"v":230.5},{"t":380,"v":231.5},{"t":984.5,"v":272.5}
    ],
    "pointDownLeft": [
      {"t":611.5,"v":273.5}
    ],
    "labels": [
      {"name":"I","sub":"","t":62,"v":72},
      {"name":"II","sub":"","t":62,"v":103},
      {"name":"III","sub":"","t":62,"v":145},
      {"name":"V1","sub":"","t":62,"v":172},
      {"name":"V6","sub":"","t":62,"v":200},
      {"name":"HRA","sub":"","t":62,"v":235},
      {"name":"His","sub":"prox","t":41,"v":269},
      {"name":"His","sub":"mid","t":43,"v":307},
      {"name":"His","sub":"dist","t":43,"v":343},
      {"name":"CS","sub":"prox","t":36,"v":380},
      {"name":"CS","sub":"mid","t":39,"v":522},
      {"name":"CS","sub":"dist","t":39,"v":669},
      {"name":"RVA","sub":"","t":62,"v":717}
    ],
    "stimLabels": [
      {"name":"S","sub":"1","t":104,"v":733},
      {"name":"S","sub":"1","t":366,"v":733},
      {"name":"S","sub":"2","t":506,"v":733}
    ],
    "scaleText": [
      {"text":"200 msec","t":235.5,"v":740}
    ]
  },
  "encoding": {
    "x": {"field": "t", "type": "quantitative", "axis": null, "scale": {"domain": [0, 1088], "nice": false, "zero": false}},
    "y": {"field": "v", "type": "quantitative", "axis": null, "scale": {"domain": [0, 750], "nice": false, "zero": false, "reverse": true}}
  },
  "layer": [
    {
      "data": {"name": "traces"},
      "transform": [{"filter": "indexof(datum.c, 'CS') == 0 || datum.c == 'RVA'"}],
      "mark": {"type": "line", "order": false, "color": "#6f6f6f", "strokeWidth": 1.8, "clip": true},
      "encoding": {"detail": {"field": "c"}}
    },
    {
      "data": {"name": "clipped"},
      "mark": {"type": "line", "order": false, "color": "#a0a0a0", "strokeWidth": 1.1, "clip": true},
      "encoding": {"detail": {"field": "id"}}
    },
    {
      "data": {"name": "traces"},
      "transform": [{"filter": "!(indexof(datum.c, 'CS') == 0 || datum.c == 'RVA')"}],
      "mark": {"type": "line", "order": false, "color": "#333333", "strokeWidth": 1.4, "clip": true},
      "encoding": {"detail": {"field": "c"}}
    },
    {
      "data": {"name": "artifacts"},
      "mark": {"type": "line", "order": false, "color": "#1a1a1a", "strokeWidth": 2, "clip": true},
      "encoding": {"detail": {"field": "id"}}
    },
    {
      "data": {"name": "marker"},
      "mark": {"type": "line", "order": false, "color": "#555555", "strokeWidth": 1.5, "strokeDash": [6, 4]},
      "encoding": {}
    },
    {
      "data": {"name": "scalebar"},
      "mark": {"type": "line", "order": false, "color": "#333333", "strokeWidth": 1.2},
      "encoding": {"detail": {"field": "id"}}
    },
    {
      "data": {"name": "shafts"},
      "mark": {"type": "line", "order": false, "color": "#1a1a1a", "strokeWidth": 2.5},
      "encoding": {"detail": {"field": "id"}}
    },
    {
      "data": {"name": "heads"},
      "mark": {"type": "point", "filled": true, "color": "#1a1a1a", "opacity": 1, "size": 256, "shape": "M-0.875,-1 L0.875,-1 L0,1 Z"}
    },
    {
      "data": {"name": "pointDownRight"},
      "mark": {"type": "point", "filled": true, "fill": "white", "stroke": "#c8323c", "strokeWidth": 1.6, "opacity": 1, "fillOpacity": 1, "size": 2500, "angle": 45, "shape": "M-1,-0.12 L0.44,-0.12 L0.44,-0.32 L1,0 L0.44,0.32 L0.44,0.12 L-1,0.12 Z"}
    },
    {
      "data": {"name": "pointDownLeft"},
      "mark": {"type": "point", "filled": true, "fill": "white", "stroke": "#c8323c", "strokeWidth": 1.6, "opacity": 1, "fillOpacity": 1, "size": 2700, "angle": 135, "shape": "M-1,-0.12 L0.44,-0.12 L0.44,-0.32 L1,0 L0.44,0.32 L0.44,0.12 L-1,0.12 Z"}
    },
    {
      "data": {"name": "labels"},
      "mark": {"type": "text", "align": "right", "baseline": "middle", "font": "Liberation Sans", "fontSize": 17, "color": "#2a2a2a"},
      "encoding": {"text": {"field": "name"}}
    },
    {
      "data": {"name": "labels"},
      "mark": {"type": "text", "align": "left", "baseline": "middle", "dy": 5, "font": "Liberation Sans", "fontSize": 11.5, "color": "#2a2a2a"},
      "encoding": {"text": {"field": "sub"}}
    },
    {
      "data": {"name": "stimLabels"},
      "mark": {"type": "text", "align": "right", "baseline": "middle", "font": "Liberation Sans", "fontSize": 17, "color": "#45459a"},
      "encoding": {"text": {"field": "name"}}
    },
    {
      "data": {"name": "stimLabels"},
      "mark": {"type": "text", "align": "left", "baseline": "middle", "dy": 3, "font": "Liberation Sans", "fontSize": 11, "color": "#45459a"},
      "encoding": {"text": {"field": "sub"}}
    },
    {
      "data": {"name": "scaleText"},
      "mark": {"type": "text", "align": "center", "baseline": "middle", "font": "Liberation Sans", "fontSize": 12.5, "color": "#333333"},
      "encoding": {"text": {"field": "text"}}
    }
  ]
}
